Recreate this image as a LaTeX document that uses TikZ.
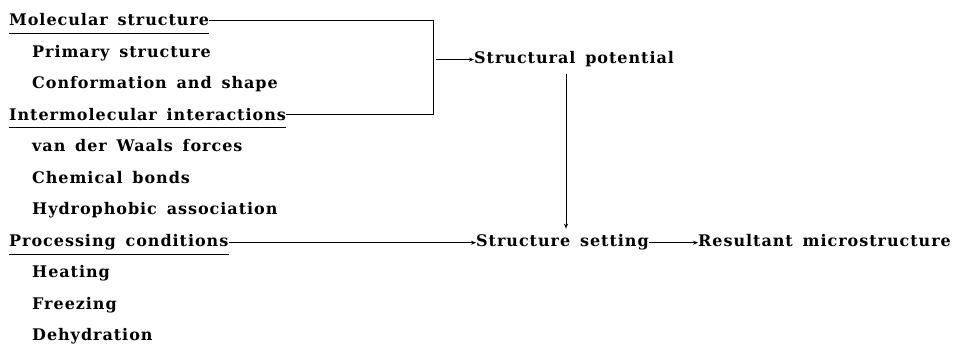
\documentclass[tikz,border=0pt]{standalone}
\usepackage{fontspec}
\setmainfont{DejaVu Serif}[LetterSpace=6,WordSpace=1.5]
\usetikzlibrary{arrows.meta}

\begin{document}
\begin{tikzpicture}[x=1pt,y=-1pt,
  txt/.style={anchor=base west,inner sep=0pt,font=\fontsize{16}{18}\selectfont\bfseries},
  lnk/.style={line width=0.9pt},
  arr/.style={lnk,-{Stealth[length=5pt,width=4pt]}},
  uline/.style={line width=0.7pt}]
\useasboundingbox (0,0) rectangle (956,347);
% left column: headings and their items
\node[txt] (mol) at (9,26) {Molecular structure};
\node[txt] (prim) at (32,57.5) {Primary structure};
\node[txt] (conf) at (32,89) {Conformation and shape};
\node[txt] (inter) at (9,120.5) {Intermolecular interactions};
\node[txt] (vdw) at (32,152) {van der Waals forces};
\node[txt] (chem) at (32,183.5) {Chemical bonds};
\node[txt] (hyd) at (32,215) {Hydrophobic association};
\node[txt] (proc) at (9,247) {Processing conditions};
\node[txt] (heat) at (32,278) {Heating};
\node[txt] (frz) at (32,309.5) {Freezing};
\node[txt] (dehy) at (32,341) {Dehydration};
\foreach \n in {mol,inter,proc} {
  \draw[uline] ([yshift=-7pt]\n.base west) -- ([yshift=-7pt]\n.base east);
}
% right part
\node[txt] (pot) at (474,64) {Structural potential};
\node[txt] (set) at (476,247) {Structure setting};
\node[txt] (res) at (698,247) {Resultant microstructure};
\coordinate (brk) at (433,0);
\coordinate (dn) at (566,0);
\draw[lnk] (mol.east) -- (mol.east -| brk) -- (inter.east -| brk) -- (inter.east);
\draw[arr] ([xshift=3pt]brk |- pot.west) -- (pot.west);
\draw[arr,shorten <=6pt,shorten >=6pt] (dn |- pot.south) -- (dn |- set.north);
\draw[arr] (proc.east) -- (set.west);
\draw[arr] (set.east) -- (set.east -| res.west);
\end{tikzpicture}
\end{document}
